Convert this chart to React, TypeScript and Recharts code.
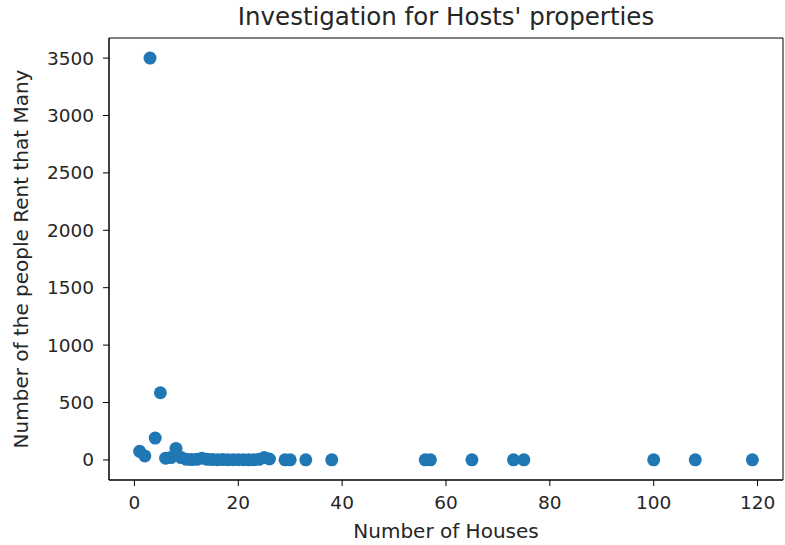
import React from 'react';
import { ScatterChart, Scatter, XAxis, YAxis, ReferenceArea } from 'recharts';

const houses = [1, 2, 3, 4, 5, 6, 7, 8, 9, 10, 11, 12, 13, 14, 15, 16, 17, 18, 19, 20, 21, 22, 23, 24, 25, 26, 29, 30, 33, 38, 56, 57, 65, 73, 75, 100, 108, 119];
const people = [75, 35, 3500, 190, 585, 15, 20, 100, 20, 5, 3, 5, 15, 5, 3, 2, 3, 2, 2, 2, 2, 1, 2, 5, 20, 8, 1, 1, 1, 1, 1, 1, 1, 1, 1, 1, 1, 1];
const xTicks = [0, 20, 40, 60, 80, 100, 120];
const yTicks = [0, 500, 1000, 1500, 2000, 2500, 3000, 3500];

const data = houses.map((h, i) => ({ x: h, y: people[i] }));

const FONT = 'DejaVu Sans';
const TXT = '#262626';
const X_DOMAIN: [number, number] = [-4.9, 124.9];
const Y_DOMAIN: [number, number] = [-175, 3675];

const Dot = (props: any) => <circle cx={props.cx} cy={props.cy} r={6.5} fill="#1f77b4" />;

export default function App() {
  return (
    <div style={{ position: 'absolute', left: 0, top: 0, width: 785, height: 545, background: '#fff' }}>
      <ScatterChart width={785} height={545} margin={{ top: 38, right: 2, bottom: 0, left: 0 }}>
        <XAxis
          type="number" dataKey="x" domain={X_DOMAIN} ticks={xTicks} allowDataOverflow
          height={65} stroke="#000" tickSize={6} tickMargin={10}
          tick={{ fill: TXT, fontSize: 18.5, fontFamily: FONT }}
          label={{ value: 'Number of Houses', position: 'insideBottom', offset: 7, style: { fill: TXT, fontSize: 20, fontFamily: FONT } }}
        />
        <YAxis
          type="number" dataKey="y" domain={Y_DOMAIN} ticks={yTicks} allowDataOverflow
          width={109} stroke="#000" tickSize={6} tickMargin={9}
          tick={{ fill: TXT, fontSize: 18.5, fontFamily: FONT }}
          label={{
            content: () => (
              <text x={28} y={259} transform="rotate(-90 28 259)" textAnchor="middle"
                fill={TXT} fontSize={20} fontFamily={FONT}>
                Number of the people Rent that Many
              </text>
            ),
          }}
        />
        <ReferenceArea x1={X_DOMAIN[0]} x2={X_DOMAIN[1]} y1={Y_DOMAIN[0]} y2={Y_DOMAIN[1]} fill="none" stroke="#000" strokeWidth={1} />
        <Scatter data={data} shape={Dot} isAnimationActive={false} />
      </ScatterChart>
      <div
        style={{
          position: 'absolute', left: 109, width: 674, top: 5, textAlign: 'center', lineHeight: 1,
          fontFamily: FONT, fontSize: 24.5, color: TXT, whiteSpace: 'nowrap',
        }}
      >
        Investigation for Hosts' properties
      </div>
    </div>
  );
}
